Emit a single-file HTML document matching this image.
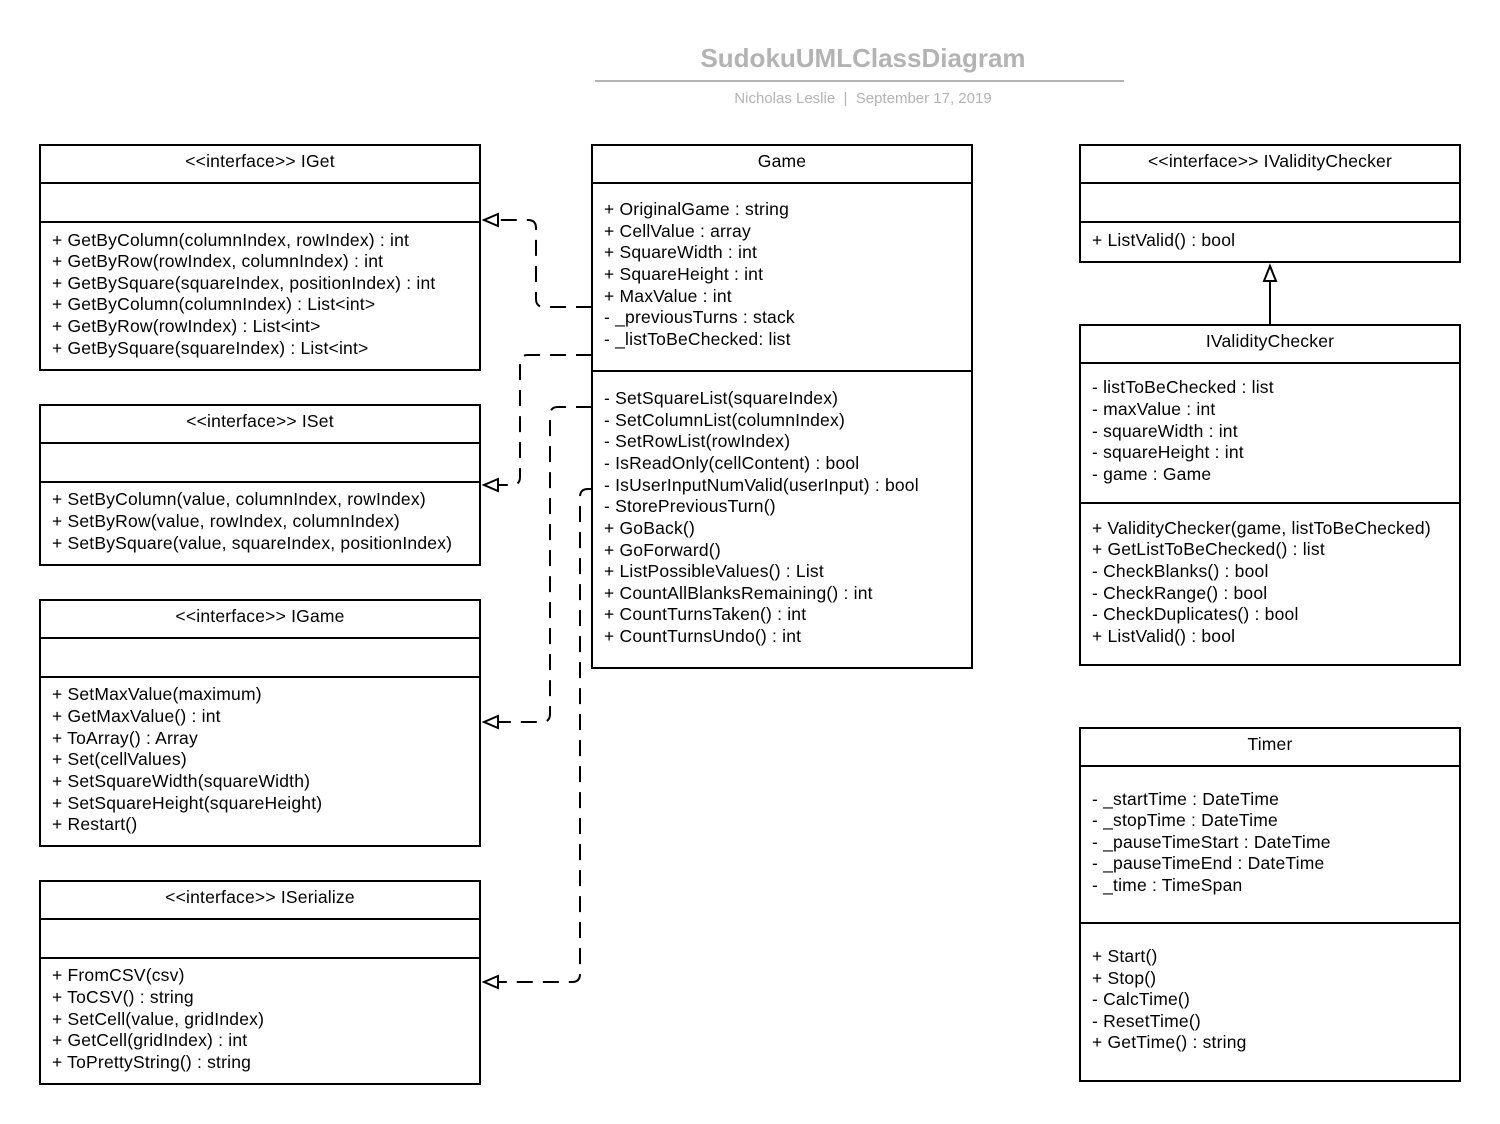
<!DOCTYPE html>
<html><head><meta charset="utf-8"><style>body{margin:0;background:#fff}svg{display:block}</style></head><body>
<svg width="1500" height="1124" xmlns="http://www.w3.org/2000/svg" font-family="Liberation Sans, Arial, sans-serif" font-size="17.5" letter-spacing="0.2">
<rect width="1500" height="1124" fill="#fff"/>
<text x="863" y="67" text-anchor="middle" font-size="26" font-weight="bold" fill="#b3b3b3" letter-spacing="0">SudokuUMLClassDiagram</text>
<line x1="595" y1="81" x2="1124" y2="81" stroke="#b3b3b3" stroke-width="2"/>
<text x="863" y="103" text-anchor="middle" font-size="15" fill="#b3b3b3" letter-spacing="0">Nicholas Leslie&#160;&#160;|&#160;&#160;September 17, 2019</text>
<g fill="none" stroke="#000" stroke-width="2">
<rect x="40" y="145" width="440" height="225"/><line x1="40" y1="183" x2="480" y2="183"/><line x1="40" y1="222" x2="480" y2="222"/>
<rect x="40" y="405" width="440" height="160"/><line x1="40" y1="443" x2="480" y2="443"/><line x1="40" y1="482" x2="480" y2="482"/>
<rect x="40" y="600" width="440" height="246"/><line x1="40" y1="638" x2="480" y2="638"/><line x1="40" y1="677" x2="480" y2="677"/>
<rect x="40" y="881" width="440" height="203"/><line x1="40" y1="919" x2="480" y2="919"/><line x1="40" y1="958" x2="480" y2="958"/>
<rect x="592" y="145" width="380" height="523"/><line x1="592" y1="183" x2="972" y2="183"/><line x1="592" y1="371" x2="972" y2="371"/>
<rect x="1080" y="145" width="380" height="117"/><line x1="1080" y1="183" x2="1460" y2="183"/><line x1="1080" y1="222" x2="1460" y2="222"/>
<rect x="1080" y="325" width="380" height="340"/><line x1="1080" y1="363" x2="1460" y2="363"/><line x1="1080" y1="503" x2="1460" y2="503"/>
<rect x="1080" y="728" width="380" height="353"/><line x1="1080" y1="766" x2="1460" y2="766"/><line x1="1080" y1="923" x2="1460" y2="923"/>
<g stroke-dasharray="16,10">
<path d="M592 307 H544 Q536 307 536 299 V228 Q536 220 528 220 H498"/>
<path d="M592 355 H528 Q520 355 520 363 V477 Q520 485 512 485 H498"/>
<path d="M592 407 H558 Q550 407 550 415 V714 Q550 722 542 722 H498"/>
<path d="M592 489 H588 Q580 489 580 497 V974 Q580 982 572 982 H498"/>
</g>
<path d="M498 214 L484 220 L498 226 Z"/>
<path d="M498 479 L484 485 L498 491 Z"/>
<path d="M498 716 L484 722 L498 728 Z"/>
<path d="M498 976 L484 982 L498 988 Z"/>
<line x1="1270" y1="325" x2="1270" y2="281"/>
<path d="M1264 281 L1270 266 L1276 281 Z"/>
</g>
<g text-anchor="middle">
<text x="260" y="167">&lt;&lt;interface&gt;&gt; IGet</text>
<text x="260" y="427">&lt;&lt;interface&gt;&gt; ISet</text>
<text x="260" y="622">&lt;&lt;interface&gt;&gt; IGame</text>
<text x="260" y="903">&lt;&lt;interface&gt;&gt; ISerialize</text>
<text x="782" y="167">Game</text>
<text x="1270" y="167">&lt;&lt;interface&gt;&gt; IValidityChecker</text>
<text x="1270" y="347">IValidityChecker</text>
<text x="1270" y="750">Timer</text>
</g>
<g>
<text x="52" y="246">+ GetByColumn(columnIndex, rowIndex) : int</text>
<text x="52" y="267">+ GetByRow(rowIndex, columnIndex) : int</text>
<text x="52" y="289">+ GetBySquare(squareIndex, positionIndex) : int</text>
<text x="52" y="310">+ GetByColumn(columnIndex) : List&lt;int&gt;</text>
<text x="52" y="332">+ GetByRow(rowIndex) : List&lt;int&gt;</text>
<text x="52" y="354">+ GetBySquare(squareIndex) : List&lt;int&gt;</text>
<text x="52" y="505">+ SetByColumn(value, columnIndex, rowIndex)</text>
<text x="52" y="527">+ SetByRow(value, rowIndex, columnIndex)</text>
<text x="52" y="549">+ SetBySquare(value, squareIndex, positionIndex)</text>
<text x="52" y="700">+ SetMaxValue(maximum)</text>
<text x="52" y="722">+ GetMaxValue() : int</text>
<text x="52" y="744">+ ToArray() : Array</text>
<text x="52" y="765">+ Set(cellValues)</text>
<text x="52" y="787">+ SetSquareWidth(squareWidth)</text>
<text x="52" y="809">+ SetSquareHeight(squareHeight)</text>
<text x="52" y="830">+ Restart()</text>
<text x="52" y="981">+ FromCSV(csv)</text>
<text x="52" y="1003">+ ToCSV() : string</text>
<text x="52" y="1025">+ SetCell(value, gridIndex)</text>
<text x="52" y="1046">+ GetCell(gridIndex) : int</text>
<text x="52" y="1068">+ ToPrettyString() : string</text>
<text x="604" y="215">+ OriginalGame : string</text>
<text x="604" y="237">+ CellValue : array</text>
<text x="604" y="258">+ SquareWidth : int</text>
<text x="604" y="280">+ SquareHeight : int</text>
<text x="604" y="302">+ MaxValue : int</text>
<text x="604" y="323">- _previousTurns : stack</text>
<text x="604" y="345">- _listToBeChecked: list</text>
<text x="604" y="404">- SetSquareList(squareIndex)</text>
<text x="604" y="426">- SetColumnList(columnIndex)</text>
<text x="604" y="447">- SetRowList(rowIndex)</text>
<text x="604" y="469">- IsReadOnly(cellContent) : bool</text>
<text x="604" y="491">- IsUserInputNumValid(userInput) : bool</text>
<text x="604" y="512">- StorePreviousTurn()</text>
<text x="604" y="534">+ GoBack()</text>
<text x="604" y="556">+ GoForward()</text>
<text x="604" y="577">+ ListPossibleValues() : List</text>
<text x="604" y="599">+ CountAllBlanksRemaining() : int</text>
<text x="604" y="620">+ CountTurnsTaken() : int</text>
<text x="604" y="642">+ CountTurnsUndo() : int</text>
<text x="1092" y="246">+ ListValid() : bool</text>
<text x="1092" y="393">- listToBeChecked : list</text>
<text x="1092" y="415">- maxValue : int</text>
<text x="1092" y="437">- squareWidth : int</text>
<text x="1092" y="458">- squareHeight : int</text>
<text x="1092" y="480">- game : Game</text>
<text x="1092" y="534">+ ValidityChecker(game, listToBeChecked)</text>
<text x="1092" y="555">+ GetListToBeChecked() : list</text>
<text x="1092" y="577">- CheckBlanks() : bool</text>
<text x="1092" y="599">- CheckRange() : bool</text>
<text x="1092" y="620">- CheckDuplicates() : bool</text>
<text x="1092" y="642">+ ListValid() : bool</text>
<text x="1092" y="805">- _startTime : DateTime</text>
<text x="1092" y="826">- _stopTime : DateTime</text>
<text x="1092" y="848">- _pauseTimeStart : DateTime</text>
<text x="1092" y="869">- _pauseTimeEnd : DateTime</text>
<text x="1092" y="891">- _time : TimeSpan</text>
<text x="1092" y="962">+ Start()</text>
<text x="1092" y="984">+ Stop()</text>
<text x="1092" y="1005">- CalcTime()</text>
<text x="1092" y="1027">- ResetTime()</text>
<text x="1092" y="1048">+ GetTime() : string</text>
</g>
</svg>
</body></html>
